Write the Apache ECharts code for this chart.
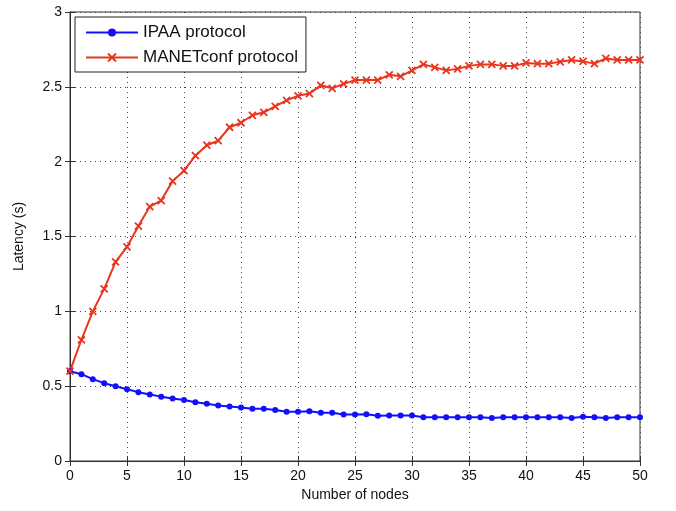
<!DOCTYPE html>
<html>
<head>
<meta charset="utf-8">
<script src="https://cdn.jsdelivr.net/npm/echarts@6/dist/echarts.min.js"></script>
<style>html,body{margin:0;padding:0;background:#fff}#c{width:676px;height:511px}</style>
</head>
<body>
<div id="c"></div>
<script>
const nodes = Array.from({length: 51}, (_, i) => i);
const ipaa = [0.60,0.58,0.547,0.52,0.50,0.48,0.46,0.445,0.43,0.418,0.407,0.393,0.382,0.371,0.364,0.357,0.349,0.349,0.34,0.329,0.329,0.333,0.322,0.322,0.311,0.311,0.313,0.302,0.304,0.304,0.304,0.293,0.293,0.293,0.293,0.293,0.293,0.287,0.293,0.293,0.293,0.293,0.293,0.293,0.287,0.296,0.293,0.287,0.293,0.293,0.293];
const manet = [0.60,0.81,1.00,1.15,1.33,1.43,1.57,1.70,1.74,1.87,1.94,2.04,2.11,2.14,2.23,2.26,2.31,2.33,2.37,2.41,2.44,2.455,2.51,2.49,2.52,2.545,2.545,2.545,2.58,2.57,2.61,2.65,2.63,2.61,2.62,2.64,2.65,2.65,2.64,2.64,2.66,2.655,2.655,2.667,2.68,2.67,2.655,2.69,2.68,2.68,2.68];
const seriesNames = ['IPAA protocol', 'MANETconf protocol'];
const xLabelName = 'Number of nodes';
const yLabelName = 'Latency (s)';

const font = 'Liberation Sans, Arial, sans-serif';
const gridLine = {show: true, lineStyle: {color: '#444', type: [1, 4], width: 1}};
const chart = echarts.init(document.getElementById('c'));
chart.setOption({
  animation: false,
  grid: {left: 70, right: 36, top: 12, bottom: 50, show: true, borderColor: '#333', borderWidth: 1},
  legend: {
    orient: 'vertical', left: 75, top: 17, itemGap: 8,
    padding: [7, 8, 6, 10],
    borderColor: '#222', borderWidth: 1, backgroundColor: '#fff', borderRadius: 0,
    itemWidth: 52, itemHeight: 10,
    textStyle: {fontFamily: font, fontSize: 17, color: '#111'},
    data: seriesNames
  },
  xAxis: [{
    type: 'value', min: 0, max: 50, interval: 5,
    name: xLabelName, nameLocation: 'middle', nameGap: 27,
    nameTextStyle: {fontFamily: font, fontSize: 14, color: '#111'},
    axisLine: {lineStyle: {color: '#333'}},
    axisTick: {inside: true, length: 5, lineStyle: {color: '#333'}},
    axisLabel: {fontFamily: font, fontSize: 14, color: '#111', margin: 8},
    splitLine: gridLine
  }, {
    type: 'value', min: 0, max: 50, interval: 5, position: 'top',
    axisLine: {lineStyle: {color: '#333'}},
    axisTick: {inside: true, length: 5, lineStyle: {color: '#333'}},
    axisLabel: {show: false}, splitLine: {show: false}
  }],
  yAxis: [{
    type: 'value', min: 0, max: 3, interval: 0.5,
    name: yLabelName, nameLocation: 'middle', nameGap: 44,
    nameTextStyle: {fontFamily: font, fontSize: 14, color: '#111'},
    axisLine: {show: true, lineStyle: {color: '#333'}},
    axisTick: {show: true, inside: true, length: 5, lineStyle: {color: '#333'}},
    axisLabel: {fontFamily: font, fontSize: 14, color: '#111', margin: 8},
    splitLine: gridLine
  }, {
    type: 'value', min: 0, max: 3, interval: 0.5, position: 'right',
    axisLine: {show: true, lineStyle: {color: '#333'}},
    axisTick: {show: true, inside: true, length: 5, lineStyle: {color: '#333'}},
    axisLabel: {show: false}, splitLine: {show: false}
  }],
  series: [{
    name: seriesNames[0], type: 'line',
    data: nodes.map((n, i) => [n, ipaa[i]]),
    symbol: 'circle', symbolSize: 6,
    lineStyle: {color: '#1010ff', width: 2},
    itemStyle: {color: '#1010ff'}
  }, {
    name: seriesNames[1], type: 'line',
    data: nodes.map((n, i) => [n, manet[i]]),
    symbol: 'path://M0,0L10,10M10,0L0,10', symbolSize: 7,
    lineStyle: {color: '#e8351e', width: 2},
    itemStyle: {color: 'rgba(0,0,0,0)', borderColor: '#e8351e', borderWidth: 1.8}
  }]
});
</script>
</body>
</html>
